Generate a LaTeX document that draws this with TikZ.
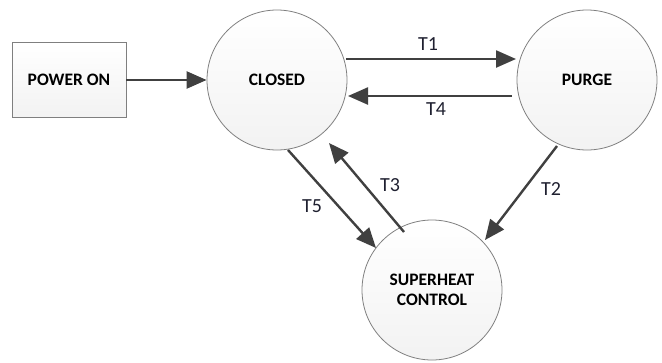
\documentclass[tikz,border=0pt]{standalone}
\usepackage{fontspec}
\setmainfont{Carlito}
\usetikzlibrary{arrows.meta}
\definecolor{edgegray}{HTML}{7F7F7F}
\definecolor{arrowgray}{HTML}{404040}
\definecolor{labelcol}{HTML}{1F2030}
\begin{document}
\begin{tikzpicture}[x=1pt,y=-1pt,
  state/.style={circle,draw=edgegray,line width=0.8pt,minimum size=140pt,inner sep=0pt,
    top color=white,bottom color=black!5,font=\bfseries\fontsize{17.5}{20}\selectfont,align=center},
  startbox/.style={rectangle,draw=edgegray,line width=0.8pt,minimum width=114pt,minimum height=75pt,
    top color=white,bottom color=black!5,font=\bfseries\fontsize{17.5}{20}\selectfont},
  trans/.style={draw=arrowgray,line width=2.4pt,-{Triangle[length=20pt,width=17pt]}},
  tlabel/.style={text=labelcol,font=\fontsize{20}{22}\selectfont}]
\useasboundingbox (0,0) rectangle (662,362);
\node[startbox] (power) at (69,80) {POWER ON};
\node[state] (closed) at (277,80) {CLOSED};
\node[state] (purge) at (587,80) {PURGE};
\node[state] (sh) at (432,290) {SUPERHEAT\\CONTROL};
\coordinate (t1s) at (346,59); \coordinate (t1e) at (516,59);
\coordinate (t4s) at (512,96); \coordinate (t4e) at (348,96);
\coordinate (t2s) at (557,146); \coordinate (t2e) at (485,240);
\coordinate (t5s) at (288,150); \coordinate (t5e) at (376,248);
\coordinate (t3s) at (404,232); \coordinate (t3e) at (329,143);
\draw[trans] (power.east) -- (closed.west);
\draw[trans] (t1s) -- (t1e);
\draw[trans] (t4s) -- (t4e);
\draw[trans] (t2s) -- (t2e);
\draw[trans] (t5s) -- (t5e);
\draw[trans] (t3s) -- (t3e);
\node[tlabel] (l1) at (428,44) {T1};
\node[tlabel] (l4) at (436,109) {T4};
\node[tlabel] (l2) at (551,189) {T2};
\node[tlabel] (l5) at (312,206) {T5};
\node[tlabel] (l3) at (390,185) {T3};
\end{tikzpicture}
\end{document}
